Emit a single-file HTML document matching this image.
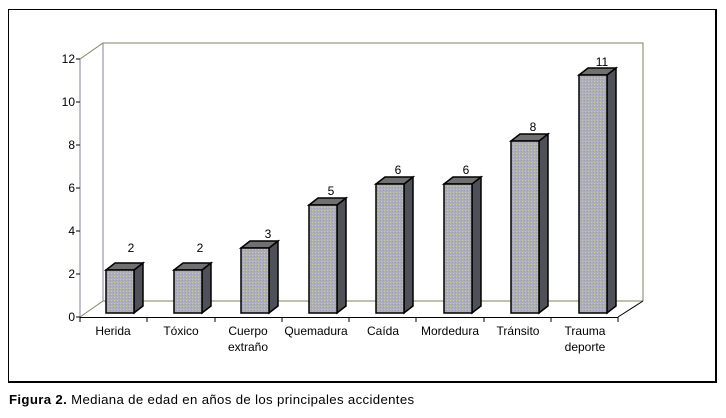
<!DOCTYPE html>
<html><head><meta charset="utf-8"><style>
body{margin:0;background:#fff;}
svg{display:block;font-family:"Liberation Sans",Arial,sans-serif;}
</style></head><body>
<svg width="726" height="418" viewBox="0 0 726 418">
<defs>
<pattern id="p" width="3" height="3" patternUnits="userSpaceOnUse">
<rect width="3" height="3" fill="#aeaeb8"/>
<rect x="0" y="0" width="1" height="1" fill="#cacaa4"/>
<rect x="2" y="1" width="1" height="1" fill="#9c9cb4"/>
</pattern>
</defs>
<rect x="8.5" y="9.5" width="707" height="372" fill="#fff" stroke="#000" stroke-width="1"/>
<line x1="716" y1="9" x2="716" y2="383" stroke="#000" stroke-width="2"/>
<line x1="8" y1="382" x2="717" y2="382" stroke="#000" stroke-width="2"/>
<polyline points="80,59 103,43 643,43 643,301" fill="none" stroke="#808060" stroke-width="1"/>
<line x1="103" y1="43" x2="103" y2="301" stroke="#8080a0" stroke-width="1"/>
<line x1="103" y1="301" x2="643" y2="301" stroke="#808060" stroke-width="1"/>
<line x1="80" y1="317" x2="103" y2="301" stroke="#808060"/>
<line x1="618" y1="317" x2="643" y2="301" stroke="#000"/>
<line x1="80" y1="59" x2="80" y2="317" stroke="#8080a0" stroke-width="1"/>
<g stroke="#000">
<line x1="76" y1="317" x2="80" y2="317"/><line x1="76" y1="274" x2="80" y2="274"/><line x1="76" y1="231" x2="80" y2="231"/><line x1="76" y1="188" x2="80" y2="188"/><line x1="76" y1="145" x2="80" y2="145"/><line x1="76" y1="102" x2="80" y2="102"/><line x1="76" y1="59" x2="80" y2="59"/>
</g>
<g font-size="12" text-anchor="end" fill="#000">
<text x="75" y="321">0</text><text x="75" y="278">2</text><text x="75" y="235">4</text><text x="75" y="192">6</text><text x="75" y="149">8</text><text x="75" y="106">10</text><text x="75" y="63">12</text>
</g>
<line x1="80" y1="317.5" x2="618" y2="317.5" stroke="#000"/>
<g stroke="#000">
<line x1="80" y1="317" x2="80" y2="322"/><line x1="147" y1="317" x2="147" y2="322"/><line x1="215" y1="317" x2="215" y2="322"/><line x1="282" y1="317" x2="282" y2="322"/><line x1="349" y1="317" x2="349" y2="322"/><line x1="416" y1="317" x2="416" y2="322"/><line x1="484" y1="317" x2="484" y2="322"/><line x1="551" y1="317" x2="551" y2="322"/><line x1="618" y1="317" x2="618" y2="322"/>
</g>
<g font-size="12" text-anchor="middle" fill="#000">
<text x="113" y="335">Herida</text>
<text x="181" y="335">Tóxico</text>
<text x="248" y="335">Cuerpo</text><text x="248" y="351">extraño</text>
<text x="316" y="335">Quemadura</text>
<text x="383" y="335">Caída</text>
<text x="450" y="335">Mordedura</text>
<text x="518" y="335">Tránsito</text>
<text x="585" y="335">Trauma</text><text x="585" y="351">deporte</text>
</g>
<g stroke="#000" stroke-width="1.5">
<polygon points="134,270 143,263 143,306 134,313" fill="#505058"/><polygon points="106,270 115,263 143,263 134,270" fill="#707070"/><rect x="106" y="270" width="28" height="43" fill="url(#p)"/>
<polygon points="202,270 211,263 211,306 202,313" fill="#505058"/><polygon points="174,270 183,263 211,263 202,270" fill="#707070"/><rect x="174" y="270" width="28" height="43" fill="url(#p)"/>
<polygon points="269,248 278,241 278,306 269,313" fill="#505058"/><polygon points="241,248 250,241 278,241 269,248" fill="#707070"/><rect x="241" y="248" width="28" height="65" fill="url(#p)"/>
<polygon points="337,205 346,198 346,306 337,313" fill="#505058"/><polygon points="309,205 318,198 346,198 337,205" fill="#707070"/><rect x="309" y="205" width="28" height="108" fill="url(#p)"/>
<polygon points="404,184 413,177 413,306 404,313" fill="#505058"/><polygon points="376,184 385,177 413,177 404,184" fill="#707070"/><rect x="376" y="184" width="28" height="129" fill="url(#p)"/>
<polygon points="472,184 481,177 481,306 472,313" fill="#505058"/><polygon points="444,184 453,177 481,177 472,184" fill="#707070"/><rect x="444" y="184" width="28" height="129" fill="url(#p)"/>
<polygon points="539,141 548,134 548,306 539,313" fill="#505058"/><polygon points="511,141 520,134 548,134 539,141" fill="#707070"/><rect x="511" y="141" width="28" height="172" fill="url(#p)"/>
<polygon points="607,75 616,68 616,306 607,313" fill="#505058"/><polygon points="579,75 588,68 616,68 607,75" fill="#707070"/><rect x="579" y="75" width="28" height="238" fill="url(#p)"/>
</g>
<g font-size="12" text-anchor="middle" fill="#000">
<text x="131" y="252">2</text>
<text x="200" y="252">2</text>
<text x="268" y="238">3</text>
<text x="331" y="195">5</text>
<text x="398" y="174">6</text>
<text x="466" y="174">6</text>
<text x="533" y="131">8</text>
<text x="602" y="66">11</text>
</g>
<text x="9" y="404" font-size="13.2" letter-spacing="0.35" fill="#000"><tspan font-weight="bold">Figura 2.</tspan> Mediana de edad en años de los principales accidentes</text>
</svg>
</body></html>
